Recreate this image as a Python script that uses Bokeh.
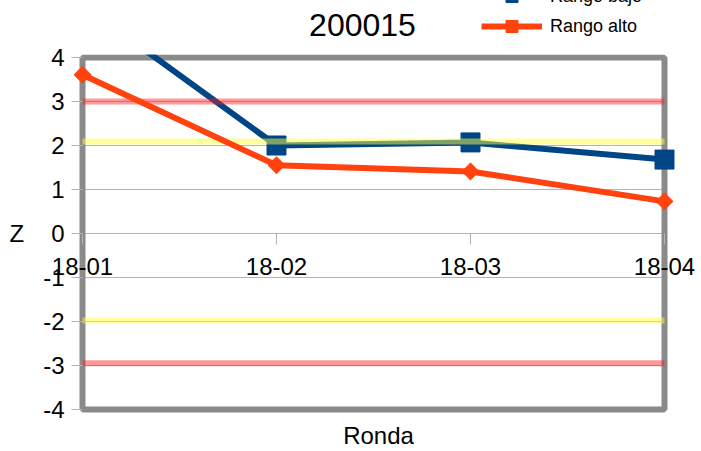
import math
from bokeh.plotting import figure
from bokeh.models import (LinearAxis, FixedTicker, Legend, LegendItem, Label, Range1d,
                          ColumnDataSource, CDSView, BooleanFilter)
from bokeh.embed import file_html
from bokeh.resources import INLINE

# ---- data ----
chart_title = "200015"
x_label = "Ronda"
y_label = "Z"
categories = ["18-01", "18-02", "18-03", "18-04"]
rango_bajo = [5.2, 2.0, 2.07, 1.68]
rango_alto = [3.61, 1.55, 1.41, 0.73]
limites_amarillos = [2.09, -1.98]
limites_rojos = [3.0, -2.95]
y_ticks = [-4, -3, -2, -1, 0, 1, 2, 3, 4]

# ---- layout constants (pixels) ----
FONT = "Liberation Sans"
W, H = 699, 447
X_FIRST_PX, X_LAST_PX = 82, 664      # frame border, left / right
Y_TOP_PX, Y_BOT_PX = 57, 409         # frame border, top / bottom

x = list(range(len(categories)))
sx = (X_LAST_PX - X_FIRST_PX) / (x[-1] - x[0])
sy = (Y_BOT_PX - Y_TOP_PX) / (y_ticks[-1] - y_ticks[0])
x_start = x[0] - X_FIRST_PX / sx
x_end = x[-1] + (W - X_LAST_PX) / sx
y_end = y_ticks[-1] + Y_TOP_PX / sy
y_start = y_ticks[0] - (H - Y_BOT_PX) / sy


def px_x(px):
    return x_start + px / sx


def px_y(py):
    return y_end - py / sy


p = figure(width=W, height=H, output_backend="svg", toolbar_location=None,
           x_range=Range1d(x_start, x_end), y_range=Range1d(y_start, y_end),
           x_axis_type=None, y_axis_type=None,
           min_border_left=0, min_border_right=0, min_border_top=0, min_border_bottom=0)
p.background_fill_color = "white"
p.border_fill_color = "white"
p.outline_line_color = None

# grid lines (only inside plot area)
p.segment(x0=[x[0]] * len(y_ticks), x1=[x[-1]] * len(y_ticks), y0=y_ticks, y1=y_ticks,
          line_color="#b3b3b3", line_width=1)

# plot-area border
p.quad(left=[x[0]], right=[x[-1]], bottom=[y_ticks[0]], top=[y_ticks[-1]],
       fill_color=None, line_color="#8a8a8a", line_width=6)

# series "Rango bajo" (markers only where they fall inside the axis range)
src_bajo = ColumnDataSource(dict(x=x, y=rango_bajo))
in_range = BooleanFilter([y_ticks[0] <= v <= y_ticks[-1] for v in rango_bajo])
bl = p.line("x", "y", source=src_bajo, line_color="#004586", line_width=6)
bm = p.scatter("x", "y", source=src_bajo, view=CDSView(filter=in_range),
               marker="square", size=19, color="#004586")

# hide what lies above the plot area
p.quad(left=[x_start - 1], right=[x_end + 1], bottom=[y_ticks[-1] + 3 / sy],
       top=[y_end + 2], fill_color="white", line_color=None)

# limit bands
for v in limites_amarillos:
    p.segment(x0=[x[0]], x1=[x[-1]], y0=[v], y1=[v], line_color="#ffff40",
              line_alpha=0.5, line_width=6)
for v in limites_rojos:
    p.segment(x0=[x[0]], x1=[x[-1]], y0=[v], y1=[v], line_color="#ff1a1a",
              line_alpha=0.45, line_width=6)

# series "Rango alto"
al = p.line(x, rango_alto, line_color="#ff420e", line_width=6)
am = p.scatter(x, rango_alto, marker="square", angle=math.pi / 4, size=12, color="#ff420e")

# y axis at x = first category
y_overrides = {v: str(v) for v in y_ticks}
yaxis = LinearAxis(ticker=FixedTicker(ticks=y_ticks), axis_label=y_label,
                   fixed_location=x[0], bounds=(y_ticks[0], y_ticks[-1]),
                   major_label_overrides=y_overrides,
                   axis_line_color=None, major_tick_in=0, major_tick_out=11,
                   major_tick_line_color="#b3b3b3", minor_tick_line_color=None,
                   major_label_standoff=7, major_label_text_font=FONT,
                   major_label_text_font_size="24px", major_label_text_color="#000000",
                   axis_label_text_font=FONT, axis_label_text_font_size="24px",
                   axis_label_text_font_style="normal", axis_label_text_color="#000000",
                   axis_label_standoff=16, axis_label_orientation="horizontal")
p.add_layout(yaxis, "left")

# x axis crossing at 0
xaxis = LinearAxis(ticker=FixedTicker(ticks=x),
                   major_label_overrides={i: c for i, c in enumerate(categories)},
                   fixed_location=0, bounds=(x[0], x[-1]),
                   axis_line_color=None, major_tick_in=0, major_tick_out=11,
                   major_tick_line_color="#b3b3b3", minor_tick_line_color=None,
                   major_label_standoff=13, major_label_text_font=FONT,
                   major_label_text_font_size="24px", major_label_text_color="#000000")
p.add_layout(xaxis, "below")

# x axis title below the plot area
xtitle = LinearAxis(ticker=FixedTicker(ticks=[]), fixed_location=y_ticks[0],
                    bounds=(x[0], x[-1] + 0.05), axis_line_color=None,
                    major_tick_in=0, major_tick_out=0, minor_tick_in=0, minor_tick_out=0,
                    major_label_standoff=0, axis_label=x_label, axis_label_standoff=12,
                    axis_label_text_font=FONT, axis_label_text_font_size="24px",
                    axis_label_text_font_style="normal", axis_label_text_color="#000000")
p.add_layout(xtitle, "below")

# chart title
p.add_layout(Label(x=px_x(362), y=px_y(24), text=chart_title, text_align="center",
                   text_baseline="middle", text_font=FONT, text_font_size="32px",
                   text_color="#000000"))

legend = Legend(items=[LegendItem(label="Rango bajo", renderers=[bl, bm]),
                       LegendItem(label="Rango alto", renderers=[al, am])],
                location=(481, H - 41), padding=0, margin=0, spacing=0,
                glyph_width=61, glyph_height=30, label_height=30, label_standoff=8,
                border_line_color=None, background_fill_alpha=0,
                label_text_font=FONT, label_text_font_size="18px",
                label_text_color="#000000")
p.add_layout(legend)

open("out.html", "w").write(file_html(p, INLINE))
